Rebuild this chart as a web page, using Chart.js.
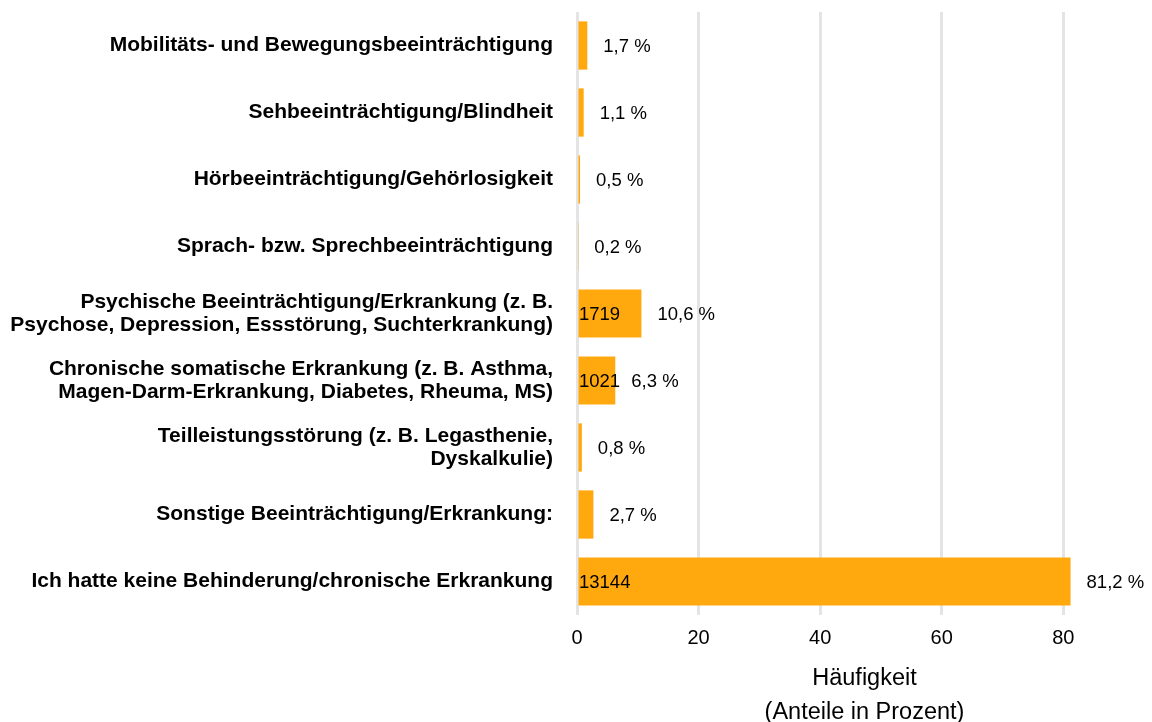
<!DOCTYPE html>
<html>
<head>
<meta charset="utf-8">
<script src="https://cdn.jsdelivr.net/npm/chart.js@4"></script>
<style>
  html, body { margin: 0; background: #fff; }
  #wrap { width: 1152px; height: 722px; }
</style>
</head>
<body>
<div id="wrap"><canvas id="chart"></canvas></div>
<script>
const categories = [
    'Mobilitäts- und Bewegungsbeeinträchtigung',
    'Sehbeeinträchtigung/Blindheit',
    'Hörbeeinträchtigung/Gehörlosigkeit',
    'Sprach- bzw. Sprechbeeinträchtigung',
    ['Psychische Beeinträchtigung/Erkrankung (z. B.', 'Psychose, Depression, Essstörung, Suchterkrankung)'],
    ['Chronische somatische Erkrankung (z. B. Asthma,', 'Magen-Darm-Erkrankung, Diabetes, Rheuma, MS)'],
    ['Teilleistungsstörung (z. B. Legasthenie,', 'Dyskalkulie)'],
    'Sonstige Beeinträchtigung/Erkrankung:',
    'Ich hatte keine Behinderung/chronische Erkrankung'
];
const percents = [1.7, 1.1, 0.5, 0.2, 10.6, 6.3, 0.8, 2.7, 81.2];
// absolute counts, only printed inside the larger bars
const counts = [null, null, null, null, 1719, 1021, null, null, 13144];
const xTicks = [0, 20, 40, 60, 80];

const FONT = '"Liberation Sans", Arial, sans-serif';

const fmtPct = v => v.toFixed(1).replace('.', ',') + ' %';

// percent label right of each bar, count label inside the bar
const valueLabels = {
    id: 'valueLabels',
    afterDatasetsDraw(chart) {
        const ctx = chart.ctx,
            meta = chart.getDatasetMeta(0),
            x0 = chart.scales.x.getPixelForValue(0);
        ctx.save();
        ctx.fillStyle = '#000';
        ctx.textBaseline = 'middle';
        ctx.textAlign = 'left';
        ctx.font = '18.5px ' + FONT;
        meta.data.forEach((bar, i) => {
            ctx.fillText(fmtPct(percents[i]), bar.x + 16, bar.y + 1);
            if (counts[i] != null) {
                ctx.fillText(String(counts[i]), x0 + 2, bar.y + 1);
            }
        });
        ctx.restore();
    }
};

const chart = new Chart(document.getElementById('chart'), {
    type: 'bar',
    data: {
        labels: categories,
        datasets: [{
            data: percents,
            backgroundColor: '#FFA90E',
            borderWidth: 0,
            barPercentage: 0.72,
            categoryPercentage: 1
        }]
    },
    options: {
        indexAxis: 'y',
        responsive: true,
        maintainAspectRatio: false,
        animation: false,
        layout: { padding: { top: 12, right: 0, left: 0, bottom: 0 } },
        plugins: {
            legend: { display: false },
            tooltip: { enabled: false }
        },
        scales: {
            x: {
                min: 0,
                max: 94.6,
                afterBuildTicks: scale => {
                    scale.ticks = xTicks.map(v => ({ value: v }));
                },
                afterFit: scale => {
                    scale.height = 107;
                    scale.paddingLeft = 0;
                    scale.paddingRight = 0;
                },
                grid: { color: '#e4e4e4', lineWidth: 3, drawTicks: false },
                border: { display: false },
                ticks: {
                    color: '#000',
                    padding: 11,
                    font: { family: FONT, size: 20 }
                },
                title: {
                    display: true,
                    text: ['Häufigkeit', '(Anteile in Prozent)'],
                    color: '#000',
                    font: { family: FONT, size: 23.5, lineHeight: 1.43 },
                    padding: { top: 6, bottom: -7 }
                }
            },
            y: {
                afterFit: scale => {
                    scale.width = 577;
                    scale.paddingTop = 0;
                    scale.paddingBottom = 0;
                },
                grid: { display: false },
                border: { display: false },
                ticks: {
                    color: '#000',
                    padding: 16,
                    font: { family: FONT, size: 21, weight: 'bold', lineHeight: 1.1 }
                }
            }
        }
    },
    plugins: [valueLabels]
});
</script>
</body>
</html>
